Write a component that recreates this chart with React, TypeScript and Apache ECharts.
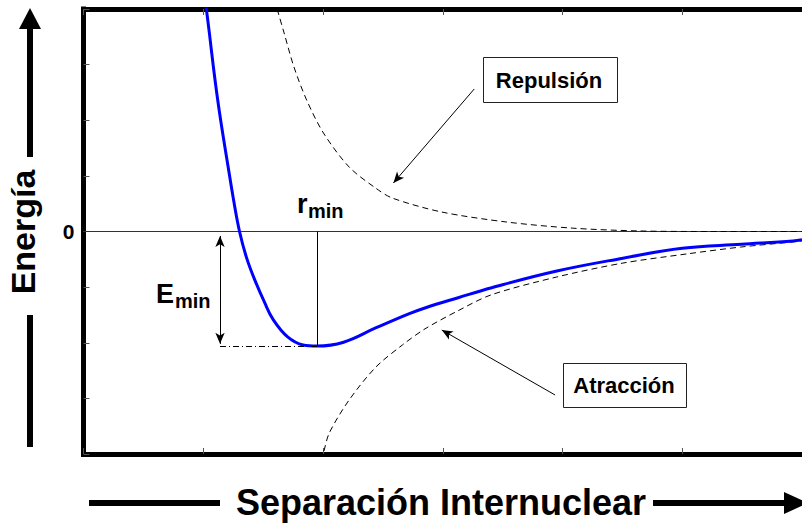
import React, { useEffect, useRef } from "react";
import * as echarts from "echarts";

// Internuclear separation (arbitrary units, ticks every 1) and energy (arbitrary units)
const xTicks = [0, 1, 2, 3, 4, 5, 6];
const yTicks = [-4, -3, -2, -1, 0, 1, 2, 3, 4];

// Total potential energy (blue curve)
const totalX = [1.006, 1.026, 1.051, 1.084, 1.121, 1.162, 1.208, 1.253, 1.303, 1.36, 1.43, 1.513, 1.583, 1.702, 1.834, 1.95, 2.172, 2.444, 2.716, 2.857, 3.129, 3.409, 3.953, 4.505, 5.0, 5.495, 5.924, 6.0];
const totalY = [4.34, 4.0, 3.57, 2.97, 2.36, 1.77, 1.16, 0.57, 0.0, -0.46, -0.87, -1.28, -1.58, -1.89, -2.04, -2.06, -1.99, -1.73, -1.48, -1.37, -1.19, -1.01, -0.71, -0.48, -0.3, -0.23, -0.17, -0.15];

// Repulsion (dashed, positive)
const repX = [1.572, 1.617, 1.675, 1.757, 1.864, 2.004, 2.218, 2.44, 2.58, 2.992, 3.535, 4.086, 4.638, 5.239, 6.0];
const repY = [4.34, 4.0, 3.57, 2.96, 2.36, 1.77, 1.16, 0.78, 0.6, 0.35, 0.17, 0.06, 0.01, 0.0, 0.0];

// Attraction (dashed, negative)
const attX = [1.963, 2.004, 2.053, 2.218, 2.44, 2.663, 2.852, 3.123, 3.403, 3.947, 4.498, 5.049, 5.486, 5.914, 6.0];
const attY = [-4.29, -3.98, -3.62, -3.03, -2.44, -2.04, -1.75, -1.43, -1.14, -0.82, -0.57, -0.4, -0.28, -0.19, -0.17];

// Minimum of the well
const rMin = 1.95;
const eMin = -2.06;

const FONT = "'Liberation Sans', Arial, Helvetica, sans-serif";

const pairs = (xs: number[], ys: number[]) => xs.map((x, i) => [x, ys[i]]);

export default function App() {
  const ref = useRef<HTMLDivElement>(null);

  useEffect(() => {
    if (!ref.current) return;
    const chart = echarts.init(ref.current, null, { renderer: "svg" });

    const axisCommon = {
      type: "value" as const,
      axisLine: { show: true, onZero: false, lineStyle: { color: "#000", width: 5, cap: "square" } },
      axisTick: { show: true, inside: true, length: 6, lineStyle: { color: "#555", width: 1 } },
      splitLine: { show: false },
    };

    const arrowLine = (from: number[], to: number[], both = false) => [
      { coord: from, symbol: both ? "arrow" : "none", symbolSize: [7, 11] },
      { coord: to, symbol: "arrow", symbolSize: [7, 11] },
    ];

    const option: any = {
      animation: false,
      backgroundColor: "#fff",
      grid: { left: 83.5, top: 9, right: -9.3, bottom: 75 },
      xAxis: [
        { ...axisCommon, min: xTicks[0], max: xTicks[xTicks.length - 1], interval: 1, position: "bottom", axisLabel: { show: false } },
        { ...axisCommon, min: xTicks[0], max: xTicks[xTicks.length - 1], interval: 1, position: "top", axisLabel: { show: false } },
      ],
      yAxis: {
        ...axisCommon,
        min: yTicks[0],
        max: yTicks[yTicks.length - 1],
        interval: 1,
        axisLabel: {
          show: true,
          formatter: (v: number) => (v === 0 ? "0" : ""),
          margin: 9,
          fontSize: 21,
          fontWeight: "bold",
          color: "#000",
          fontFamily: FONT,
        },
      },
      series: [
        {
          name: "cero",
          type: "line",
          data: [[xTicks[0], 0], [xTicks[xTicks.length - 1], 0]],
          showSymbol: false,
          lineStyle: { color: "#333", width: 1 },
          silent: true,
        },
        {
          name: "Repulsión",
          type: "line",
          data: pairs(repX, repY),
          showSymbol: false,
          smooth: 0.3,
          lineStyle: { color: "#000", width: 1, type: [6, 4] },
          silent: true,
        },
        {
          name: "Atracción",
          type: "line",
          data: pairs(attX, attY),
          showSymbol: false,
          smooth: 0.3,
          lineStyle: { color: "#000", width: 1, type: [6, 4] },
          silent: true,
        },
        {
          name: "annotations",
          type: "line",
          data: [],
          silent: true,
          markLine: {
            silent: true,
            animation: false,
            label: { show: false },
            emphasis: { disabled: true },
            lineStyle: { color: "#000", width: 1, type: "solid" },
            data: [
              [
                { coord: [rMin, 0], symbol: "none" },
                { coord: [rMin, eMin], symbol: "none" },
              ],
              [
                { coord: [1.14, eMin], symbol: "none", lineStyle: { type: [6, 3, 1, 3], color: "#000", width: 1 } },
                { coord: [rMin, eMin], symbol: "none" },
              ],
              arrowLine([1.14, -0.08], [1.14, -2.02], true),
              arrowLine([3.263, 2.562], [2.588, 0.872]),
              arrowLine([3.938, -2.939], [2.992, -1.771]),
            ],
          },
        },
        {
          name: "Energía total",
          type: "line",
          data: pairs(totalX, totalY),
          showSymbol: false,
          smooth: 0.4,
          lineStyle: { color: "#0000ff", width: 3 },
          silent: true,
        },
      ],
      graphic: [
        // Repulsión box
        { type: "rect", shape: { x: 483.5, y: 57.5, width: 134, height: 45 }, style: { fill: "#fff", stroke: "#222", lineWidth: 1 }, z: 10 },
        { type: "text", x: 549, y: 80, style: { text: "Repulsión", fontSize: 22, fontWeight: "bold", fontFamily: FONT, fill: "#000", align: "center", verticalAlign: "middle" }, z: 11 },
        // Atracción box
        { type: "rect", shape: { x: 563.5, y: 363.5, width: 123, height: 44 }, style: { fill: "#fff", stroke: "#222", lineWidth: 1 }, z: 10 },
        { type: "text", x: 624, y: 385, style: { text: "Atracción", fontSize: 22, fontWeight: "bold", fontFamily: FONT, fill: "#000", align: "center", verticalAlign: "middle" }, z: 11 },
        // E_min
        { type: "text", x: 156, y: 293.5, style: { text: "E", fontSize: 27, fontWeight: "bold", fontFamily: FONT, fill: "#000", align: "left", verticalAlign: "middle" }, z: 11 },
        { type: "text", x: 175, y: 301, style: { text: "min", fontSize: 20, fontWeight: "bold", fontFamily: FONT, fill: "#000", align: "left", verticalAlign: "middle" }, z: 11 },
        // r_min
        { type: "text", x: 297, y: 203.5, style: { text: "r", fontSize: 27, fontWeight: "bold", fontFamily: FONT, fill: "#000", align: "left", verticalAlign: "middle" }, z: 11 },
        { type: "text", x: 308, y: 211, style: { text: "min", fontSize: 20, fontWeight: "bold", fontFamily: FONT, fill: "#000", align: "left", verticalAlign: "middle" }, z: 11 },
        // Vertical axis title with arrow
        { type: "line", shape: { x1: 30, y1: 26, x2: 30, y2: 157 }, style: { stroke: "#000", lineWidth: 6 } },
        { type: "polygon", shape: { points: [[30, 8], [41, 29], [19, 29]] }, style: { fill: "#000" } },
        { type: "line", shape: { x1: 30, y1: 315, x2: 30, y2: 447 }, style: { stroke: "#000", lineWidth: 6 } },
        { type: "text", x: 23, y: 232, rotation: Math.PI / 2, style: { text: "Energía", fontSize: 34, fontWeight: "bold", fontFamily: FONT, fill: "#000", align: "center", verticalAlign: "middle" } },
        // Horizontal axis title with arrow
        { type: "line", shape: { x1: 89, y1: 503, x2: 220, y2: 503 }, style: { stroke: "#000", lineWidth: 6 } },
        { type: "line", shape: { x1: 653, y1: 503, x2: 788, y2: 503 }, style: { stroke: "#000", lineWidth: 6 } },
        { type: "polygon", shape: { points: [[784, 492], [808, 503], [784, 514]] }, style: { fill: "#000" } },
        { type: "text", x: 441, y: 502, style: { text: "Separación Internuclear", fontSize: 36, fontWeight: "bold", fontFamily: FONT, fill: "#000", align: "center", verticalAlign: "middle" } },
      ],
    };

    chart.setOption(option);
    return () => chart.dispose();
  }, []);

  return (
    <div
      ref={ref}
      style={{ position: "fixed", left: 0, top: 0, width: 802, height: 529, background: "#fff" }}
    />
  );
}
